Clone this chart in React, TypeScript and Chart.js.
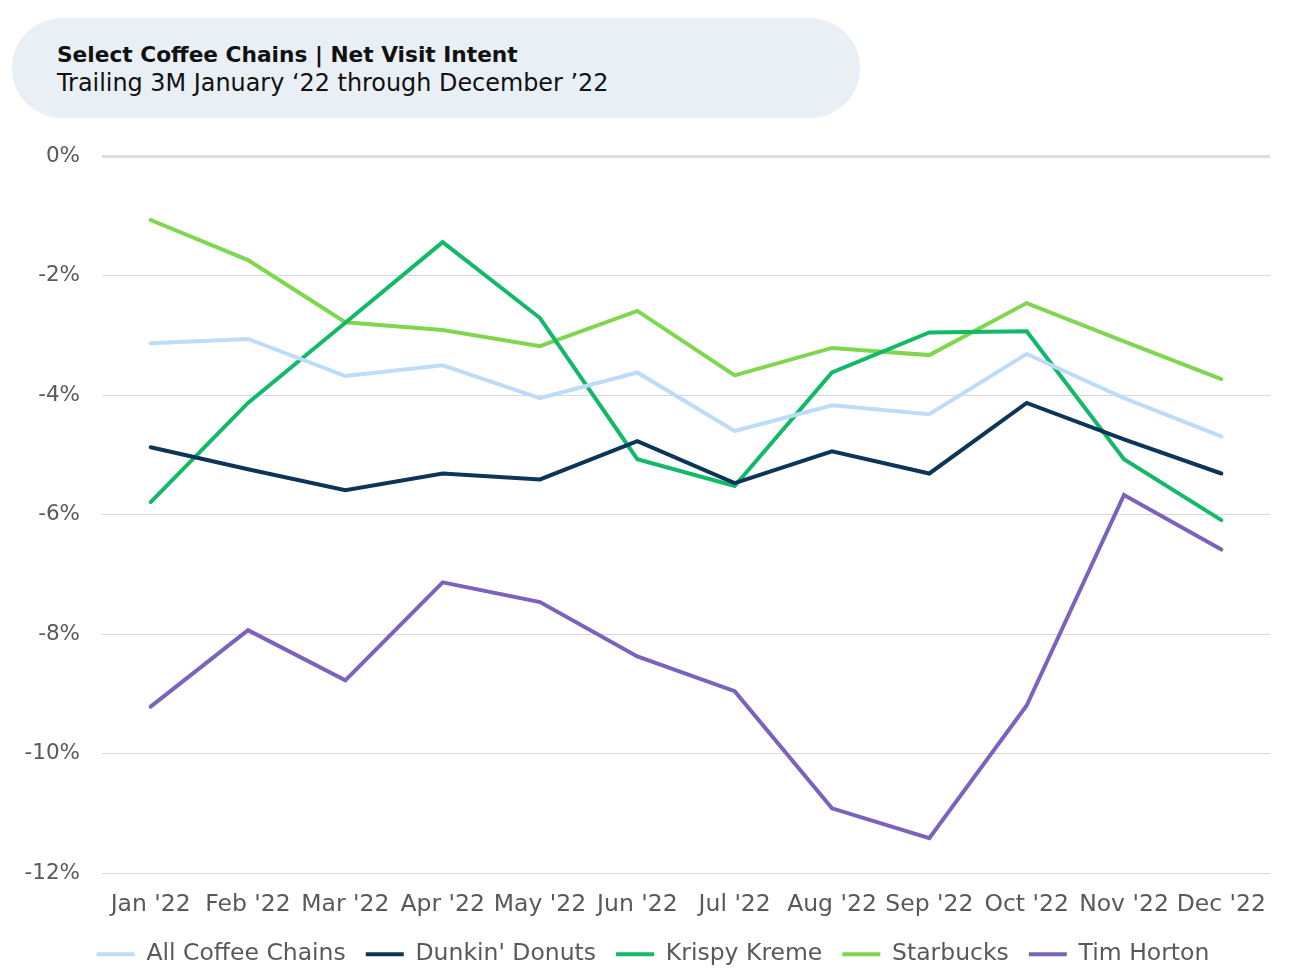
import React, { useEffect, useRef } from "react";
import { Chart, registerables } from "chart.js";

Chart.register(...registerables);

const months = ["Jan '22", "Feb '22", "Mar '22", "Apr '22", "May '22", "Jun '22", "Jul '22", "Aug '22", "Sep '22", "Oct '22", "Nov '22", "Dec '22"];

const allCoffee = [-3.13, -3.06, -3.68, -3.5, -4.05, -3.62, -4.6, -4.17, -4.32, -3.31, -4.05, -4.69];
const dunkin = [-4.87, -5.24, -5.59, -5.31, -5.41, -4.77, -5.47, -4.94, -5.31, -4.13, -4.74, -5.31];
const krispy = [-5.79, -4.13, -2.79, -1.44, -2.71, -5.07, -5.52, -3.62, -2.95, -2.93, -5.07, -6.09];
const starbucks = [-1.07, -1.74, -2.78, -2.91, -3.18, -2.59, -3.67, -3.21, -3.33, -2.46, -3.1, -3.73];
const timHorton = [-9.21, -7.93, -8.77, -7.13, -7.46, -8.37, -8.95, -10.91, -11.41, -9.19, -5.67, -6.58];

const seriesNames = ["All Coffee Chains", "Dunkin' Donuts", "Krispy Kreme", "Starbucks", "Tim Horton"];
const seriesColors = ["#bddcfa", "#0c3559", "#11b968", "#7fd64f", "#7a62bd"];

const FONT = "'DejaVu Sans', 'Open Sans', sans-serif";

export default function App() {
  const ref = useRef<HTMLCanvasElement | null>(null);

  useEffect(() => {
    if (!ref.current) return;
    const values = [allCoffee, dunkin, krispy, starbucks, timHorton];
    const chart = new Chart(ref.current, {
      type: "line",
      data: {
        labels: months,
        datasets: values.map((v, i) => ({
          label: seriesNames[i],
          data: v,
          borderColor: seriesColors[i],
          backgroundColor: seriesColors[i],
          borderWidth: 4,
          borderCapStyle: "round" as const,
          borderJoinStyle: "miter" as const,
          pointRadius: 0,
          pointHoverRadius: 0,
          tension: 0,
          fill: false,
          yAxisID: "y",
        })),
      },
      options: {
        responsive: false,
        animation: false,
        layout: { padding: { left: 0, right: 0, top: 156, bottom: 0 } },
        plugins: {
          tooltip: { enabled: false },
          legend: {
            position: "bottom",
            labels: {
              usePointStyle: true,
              pointStyle: "line",
              pointStyleWidth: 38,
              boxHeight: 4,
              padding: 20,
              color: "#595959",
              font: { family: FONT, size: 23.5 },
            },
          },
        },
        scales: {
          x: {
            offset: true,
            grid: { display: false, drawTicks: false },
            border: { display: false },
            ticks: {
              color: "#595959",
              font: { family: FONT, size: 23.5 },
              padding: 17,
              maxRotation: 0,
              autoSkip: false,
            },
            afterFit: (s: any) => {
              s.height = 49;
            },
          },
          y: {
            min: -12,
            max: 0,
            grid: {
              color: (c: any) => (c.tick && c.tick.value === 0 ? "#dcdcdc" : "#d9d9d9"),
              lineWidth: (c: any) => (c.tick && c.tick.value === 0 ? 3 : 1),
              drawTicks: false,
            },
            border: { display: false },
            ticks: {
              stepSize: 2,
              color: "#595959",
              font: { family: FONT, size: 21.5 },
              padding: 22,
              callback: (v: any) => `${v}%`,
            },
            afterFit: (s: any) => {
              s.width = 102;
            },
          },
          yRight: {
            position: "right",
            display: true,
            min: -12,
            max: 0,
            grid: { display: false, drawTicks: false },
            border: { display: false },
            ticks: { display: false },
            afterFit: (s: any) => {
              s.width = 36;
            },
          },
        },
      },
    });
    return () => chart.destroy();
  }, []);

  return (
    <div style={{ position: "absolute", left: 0, top: 0, width: 1306, height: 976, background: "#fff" }}>
      <canvas ref={ref} width={1306} height={976} style={{ position: "absolute", left: 0, top: 0 }} />
      <div
        style={{
          position: "absolute",
          left: 12,
          top: 18,
          width: 848,
          height: 100,
          borderRadius: 50,
          background: "#e8eff5",
          fontFamily: FONT,
          color: "#111",
        }}
      >
        <div style={{ position: "absolute", left: 45, top: 24, fontSize: 21.7, fontWeight: 700, whiteSpace: "nowrap" }}>
          Select Coffee Chains | Net Visit Intent
        </div>
        <div style={{ position: "absolute", left: 45, top: 51, fontSize: 23.9, whiteSpace: "nowrap" }}>
          Trailing 3M January ‘22 through December ’22
        </div>
      </div>
    </div>
  );
}
